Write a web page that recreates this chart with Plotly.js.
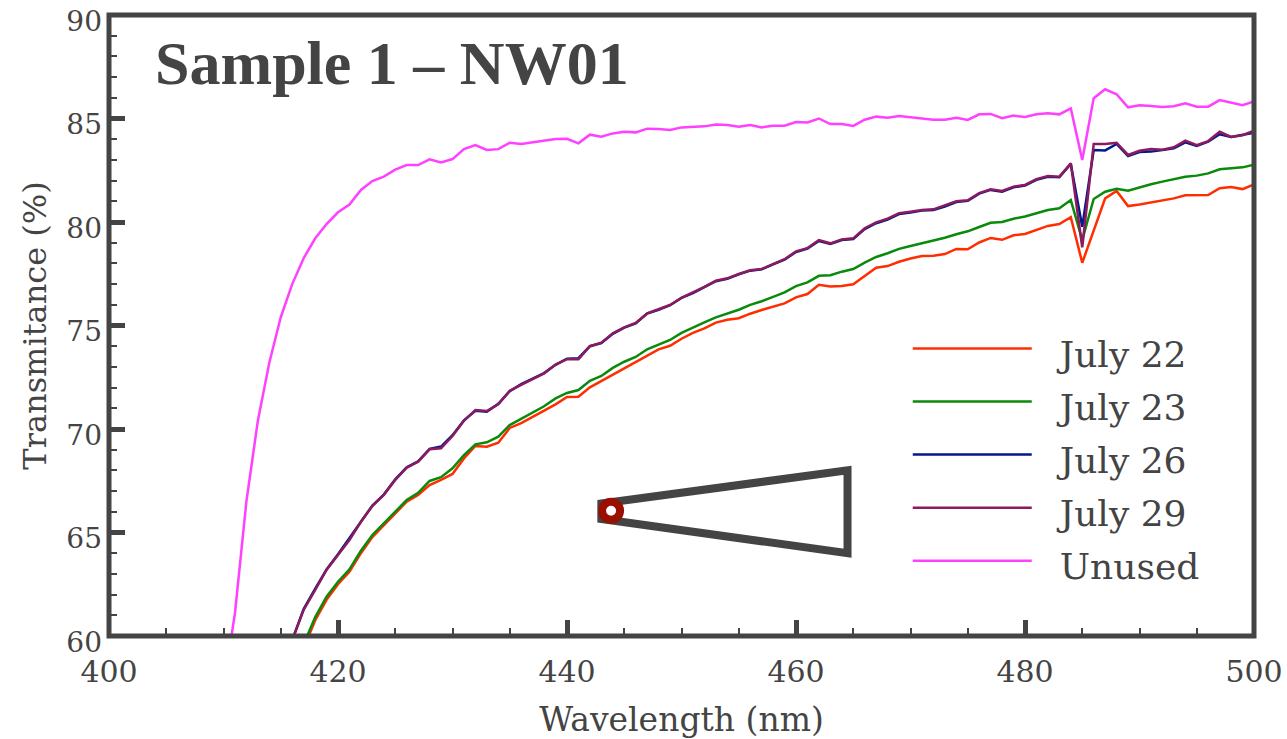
<!DOCTYPE html>
<html>
<head>
<meta charset="utf-8">
<script src="https://cdn.plot.ly/plotly-3.0.1.min.js"></script>
<style>
html,body{margin:0;padding:0;background:#fff;}
#chart{width:1287px;height:739px;}
.legend .legendtext{transform:translateX(23px);}
.legend .legendlines{transform:translateY(-4.5px);}
.legend .scrollbox{clip-path:none !important;}
</style>
</head>
<body>
<div id="chart"></div>
<script>
const wavelengths = [410,411,412,413,414,415,416,417,418,419,420,421,422,423,424,425,426,427,428,429,430,431,432,433,434,435,436,437,438,439,440,441,442,443,444,445,446,447,448,449,450,451,452,453,454,455,456,457,458,459,460,461,462,463,464,465,466,467,468,469,470,471,472,473,474,475,476,477,478,479,480,481,482,483,484,485,486,487,488,489,490,491,492,493,494,495,496,497,498,499,500];

const july22 = [null,null,null,null,null,null,null,59.4,60.75,61.75,62.5,63.1,64.0,64.78,65.36,65.94,66.49,66.81,67.29,67.54,67.83,68.58,69.18,69.14,69.34,70.05,70.28,70.59,70.88,71.19,71.55,71.56,72.01,72.32,72.64,72.96,73.24,73.57,73.85,74.02,74.36,74.64,74.86,75.14,75.28,75.35,75.57,75.75,75.91,76.07,76.36,76.52,76.97,76.89,76.91,76.99,77.39,77.79,77.87,78.08,78.24,78.36,78.37,78.45,78.7,78.68,79.01,79.23,79.14,79.36,79.42,79.61,79.81,79.9,80.23,78.03,79.61,81.14,81.5,80.77,80.85,80.95,81.05,81.14,81.29,81.29,81.3,81.63,81.69,81.59,81.82];
const july23 = [null,null,null,null,null,null,null,59.6,60.9,61.9,62.62,63.22,64.12,64.88,65.44,66.0,66.57,66.92,67.49,67.67,68.1,68.74,69.26,69.36,69.63,70.19,70.48,70.79,71.1,71.48,71.74,71.88,72.33,72.56,72.95,73.25,73.48,73.85,74.07,74.3,74.64,74.91,75.15,75.39,75.57,75.76,76.0,76.17,76.38,76.6,76.9,77.08,77.4,77.43,77.6,77.73,78.04,78.31,78.49,78.7,78.84,78.97,79.11,79.24,79.41,79.55,79.76,79.96,80.0,80.16,80.27,80.43,80.58,80.66,81.06,79.13,81.11,81.46,81.61,81.51,81.68,81.82,81.95,82.06,82.19,82.24,82.35,82.55,82.59,82.64,82.77];
const july26 = [null,null,null,null,null,null,59.8,61.3,62.28,63.22,63.95,64.75,65.55,66.3,66.83,67.57,68.15,68.44,69.04,69.15,69.7,70.42,70.88,70.84,71.22,71.83,72.17,72.45,72.7,73.1,73.4,73.42,74.0,74.15,74.6,74.9,75.1,75.58,75.76,75.98,76.33,76.57,76.84,77.14,77.25,77.47,77.65,77.71,77.95,78.18,78.55,78.72,79.08,78.94,79.13,79.18,79.66,79.94,80.12,80.38,80.46,80.55,80.58,80.75,80.96,81.02,81.37,81.55,81.46,81.68,81.76,82.04,82.18,82.16,82.8,79.77,83.48,83.46,83.77,83.19,83.38,83.4,83.48,83.56,83.85,83.67,83.88,84.24,84.11,84.2,84.31];
const july29 = [null,null,null,null,null,null,59.8,61.26,62.22,63.19,63.91,64.64,65.52,66.28,66.81,67.54,68.13,68.42,69.02,69.07,69.66,70.4,70.92,70.87,71.19,71.85,72.13,72.42,72.69,73.11,73.37,73.37,74.0,74.17,74.62,74.91,75.12,75.59,75.78,75.99,76.34,76.6,76.87,77.16,77.28,77.49,77.67,77.73,77.97,78.2,78.58,78.74,79.13,78.97,79.16,79.21,79.7,79.98,80.16,80.43,80.5,80.58,80.61,80.79,81.0,81.05,81.4,81.58,81.5,81.71,81.79,82.07,82.22,82.19,82.84,78.78,83.77,83.77,83.83,83.24,83.44,83.53,83.49,83.61,83.93,83.71,83.91,84.36,84.11,84.19,84.41];
const unused = [57.5,61.1,66.5,70.4,73.2,75.4,77.0,78.25,79.2,79.9,80.47,80.84,81.55,81.98,82.19,82.53,82.75,82.75,83.03,82.88,83.04,83.52,83.72,83.48,83.52,83.83,83.77,83.85,83.9,84.01,84.02,83.8,84.22,84.12,84.28,84.36,84.33,84.51,84.49,84.44,84.57,84.58,84.62,84.71,84.68,84.6,84.68,84.57,84.65,84.65,84.83,84.81,85.0,84.73,84.73,84.64,84.94,85.09,85.04,85.12,85.07,85.02,84.94,84.94,85.04,84.93,85.2,85.22,85.01,85.14,85.07,85.2,85.25,85.2,85.49,83.0,85.98,86.41,86.17,85.54,85.64,85.6,85.56,85.59,85.73,85.57,85.57,85.89,85.76,85.64,85.82];

const seriesNames = ['July 22','July 23','July 26','July 29','Unused'];
const seriesColors = ['#ff2e00','#0a8a0a','#001a8c','#8c1a5e','#ff40ff'];
const seriesValues = [july22,july23,july26,july29,unused];

const wedgeX = [443,464.5,464.5,443];
const wedgeY = [66.4,68,64,65.65];
const sourceX = [443.85];
const sourceY = [66.05];

const ink = '#444444';
const serif = '"DejaVu Serif", serif';

const traces = seriesValues.map((vals,i)=>({
  type:'scatter',mode:'lines',x:wavelengths,y:vals,name:seriesNames[i],legendgroup:seriesNames[i],
  line:{color:seriesColors[i],width:2.5,shape:'linear'},connectgaps:false
}));
traces.push({type:'scatter',mode:'markers',x:sourceX,y:sourceY,showlegend:false,hoverinfo:'skip',
  marker:{symbol:'circle',size:18,color:'#ffffff',line:{color:'#990f00',width:8}}});

const wedgePath = wedgeX.map((x,i)=>(i?'L':'M')+x+','+wedgeY[i]).join(' ')+' Z';

const layout = {
  width:1287,height:739,paper_bgcolor:'#ffffff',plot_bgcolor:'#ffffff',
  margin:{l:108.5,r:32.5,t:14.7,b:103,pad:0,autoexpand:false},
  font:{family:serif,color:ink},
  title:{text:'<b>Sample 1 – NW01</b>',font:{family:'"Liberation Serif", serif',size:62,color:ink},
    xref:'container',yref:'container',x:155/1287,xanchor:'left',y:1-62/739,yanchor:'middle'},
  xaxis:{range:[400,500],dtick:20,tick0:400,ticks:'inside',ticklen:16,tickwidth:5,tickcolor:ink,
    showgrid:false,zeroline:false,showline:false,automargin:false,
    tickfont:{family:serif,size:30,color:ink},ticklabelstandoff:15,
    minor:{dtick:5,ticks:'inside',ticklen:8,tickwidth:2,tickcolor:ink,showgrid:false},
    title:{text:'Wavelength (nm)',font:{family:serif,size:33,color:ink},standoff:28}},
  yaxis:{range:[60,90],dtick:5,tick0:60,ticks:'inside',ticklen:16,tickwidth:5,tickcolor:ink,
    showgrid:false,zeroline:false,showline:false,automargin:false,
    tickfont:{family:serif,size:28,color:ink},ticklabelshift:6,ticklabelstandoff:6,
    minor:{dtick:1,ticks:'inside',ticklen:8,tickwidth:2,tickcolor:ink,showgrid:false},
    title:{text:'Transmitance (%)',font:{family:serif,size:32,color:ink},standoff:10}},
  showlegend:true,
  legend:{x:0.6976,xanchor:'left',y:0.504,yanchor:'top',bgcolor:'rgba(0,0,0,0)',borderwidth:0,
    itemwidth:119,traceorder:'grouped',tracegroupgap:3.3,
    font:{family:serif,size:36,color:ink},itemclick:false,itemdoubleclick:false},
  shapes:[
    {type:'path',xref:'x',yref:'y',path:wedgePath,line:{color:ink,width:8},fillcolor:'rgba(0,0,0,0)',layer:'below'},
    {type:'rect',xref:'paper',yref:'paper',x0:0,x1:1,y0:0,y1:1,line:{color:ink,width:5},fillcolor:'rgba(0,0,0,0)',layer:'above'}
  ]
};
Plotly.newPlot('chart',traces,layout,{displayModeBar:false,responsive:false});
</script>
</body>
</html>
